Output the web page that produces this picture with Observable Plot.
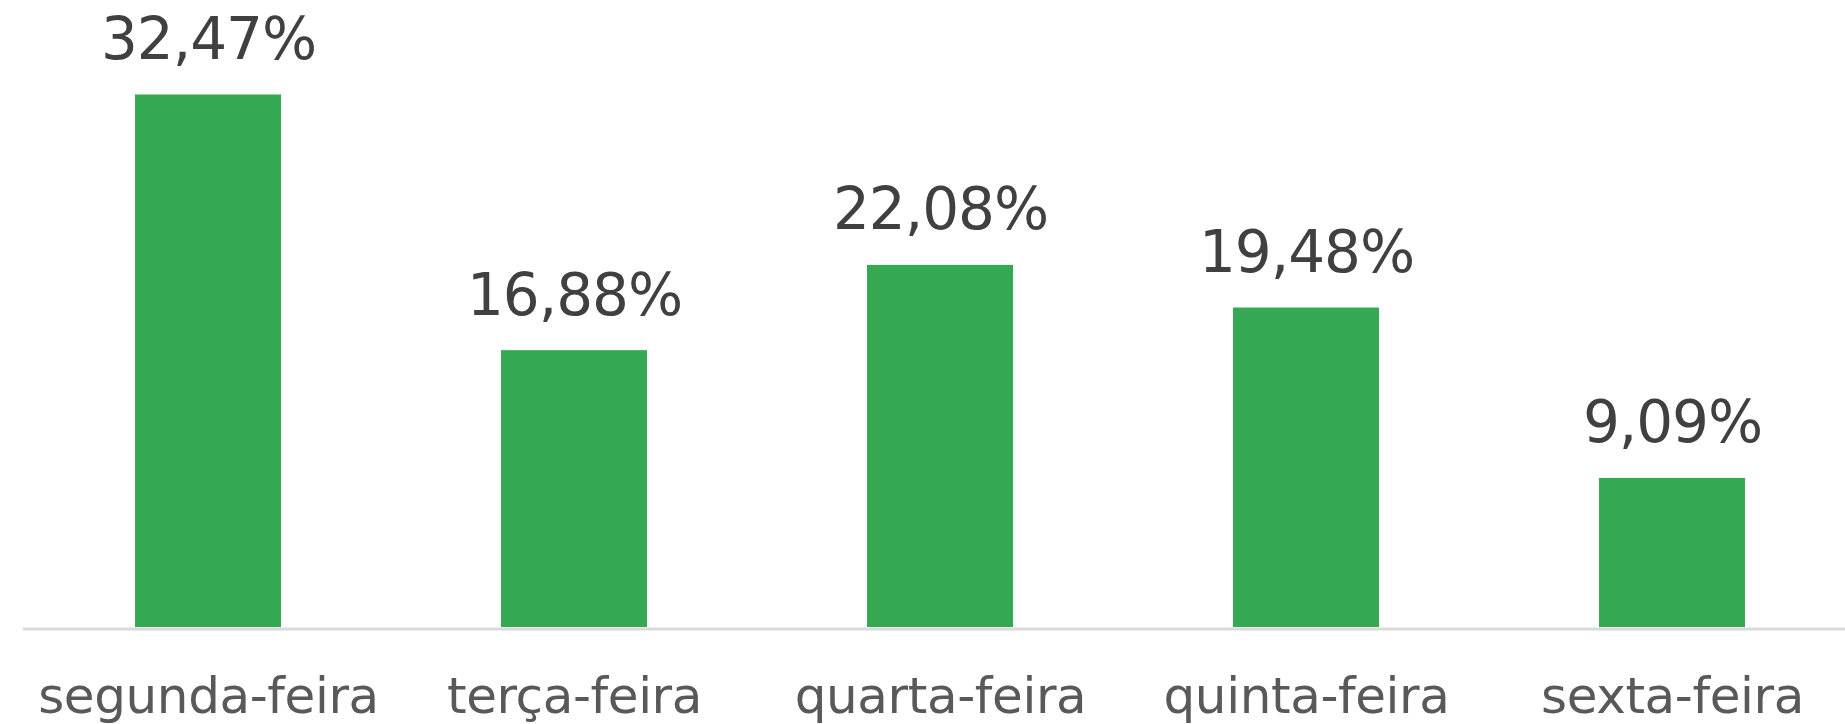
<!DOCTYPE html>
<html>
<head>
<meta charset="utf-8">
<script src="https://cdn.jsdelivr.net/npm/d3@7"></script>
<script src="https://cdn.jsdelivr.net/npm/@observablehq/plot@0.6"></script>
<style>
  html, body { margin: 0; padding: 0; background: #ffffff; }
  #chart svg { display: block; }
</style>
</head>
<body>
<div id="chart"></div>
<script>
const days = ["segunda-feira", "terça-feira", "quarta-feira", "quinta-feira", "sexta-feira"];
const shares = [32.47, 16.88, 22.08, 19.48, 9.09];
const valueLabels = ["32,47%", "16,88%", "22,08%", "19,48%", "9,09%"];

const data = days.map((d, i) => ({day: d, value: shares[i], label: valueLabels[i]}));

const chart = Plot.plot({
  width: 1845,
  height: 724,
  marginLeft: 23,
  marginRight: 0,
  marginTop: 0,
  marginBottom: 97,
  style: {fontFamily: "'DejaVu Sans', Verdana, sans-serif", background: "#ffffff"},
  x: {domain: days, range: [22.6, 1856.4], paddingInner: 0.602, paddingOuter: 0.301, label: null},
  y: {domain: [0, 35], range: [627, 627 - 35 * 16.4], axis: null},
  marks: [
    Plot.barY(data, {x: "day", y: "value", fill: "#34a853"}),
    Plot.ruleY([0], {stroke: "#d9d9d9", strokeWidth: 3, dy: 1.5}),
    Plot.text(data, {x: "day", y: "value", text: "label", fontSize: 58, fill: "#404040", lineAnchor: "bottom", dy: -36}),
    Plot.axisX({tickSize: 0, tickPadding: 50, fontSize: 50, fill: "#595959", label: null})
  ]
});
d3.select(chart).selectAll("g[aria-label='text'] text").style("letter-spacing", "-1px");
d3.select(chart).selectAll("g[aria-label='x-axis tick label'] text").style("letter-spacing", "-0.4px");
document.getElementById("chart").appendChild(chart);
</script>
</body>
</html>
